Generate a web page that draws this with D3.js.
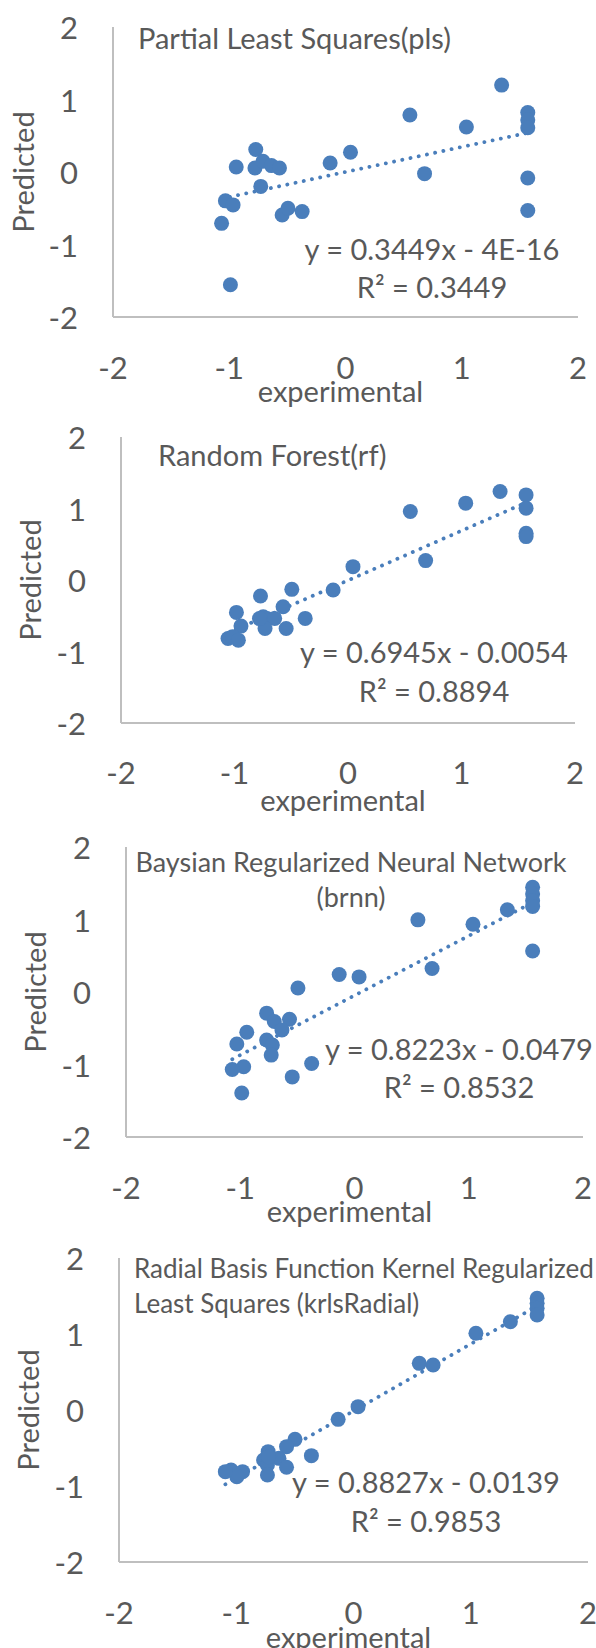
<!DOCTYPE html>
<html>
<head>
<meta charset="utf-8">
<script src="https://cdn.jsdelivr.net/npm/d3@7"></script>
<style>
  html, body { margin: 0; padding: 0; background: #fff; }
  svg text { font-family: Lato, "Noto Sans", sans-serif; fill: #595959; }
</style>
</head>
<body>
<svg id="chart" width="596" height="1648"></svg>
<script>
// values (experimental vs predicted)
var titles = [
  ["Partial Least Squares(pls)"],
  ["Random Forest(rf)"],
  ["Baysian Regularized Neural Network", "(brnn)"],
  ["Radial Basis Function Kernel Regularized", "Least Squares (krlsRadial)"]
]
var equations = ["y = 0.3449x - 4E-16", "y = 0.6945x - 0.0054", "y = 0.8223x - 0.0479", "y = 0.8827x - 0.0139"]
var rSquared = ["R² = 0.3449", "R² = 0.8894", "R² = 0.8532", "R² = 0.9853"]
var slopes = [0.3449, 0.6945, 0.8223, 0.8827]
var intercepts = [-4e-16, -0.0054, -0.0479, -0.0139]
var tickValues = [-2, -1, 0, 1, 2]

var plsX = [1.343, 0.554, 1.04, 1.568, 1.568, 1.568, 1.568, 1.568, 0.68, 0.043, -0.132, -0.772, -0.94,
  -0.779, -0.71, -0.637, -0.568, -0.729, -1.033, -0.967, -1.066, -0.99, -0.545, -0.495, -0.373]
var plsY = [1.199, 0.787, 0.62, 0.819, 0.717, 0.611, -0.083, -0.532, -0.023, 0.273, 0.125, 0.31, 0.069,
  0.056, 0.148, 0.088, 0.056, -0.199, -0.398, -0.454, -0.708, -1.556, -0.593, -0.5, -0.546]

var rfX = [1.34, 1.037, 0.549, 1.569, 1.569, 1.569, 1.569, 0.684, 0.044, -0.131, -0.495, -0.771, -0.572,
  -0.983, -0.377, -0.747, -0.714, -0.646, -0.943, -0.731, -0.545, -1.057, -1.017, -0.966, -0.78]
var rfY = [1.238, 1.075, 0.958, 1.19, 1.005, 0.654, 0.607, 0.271, 0.187, -0.14, -0.131, -0.224, -0.374,
  -0.453, -0.537, -0.514, -0.537, -0.537, -0.645, -0.678, -0.678, -0.818, -0.794, -0.841, -0.54]

var brnnX = [1.559, 1.559, 1.559, 1.559, 1.338, 0.555, 1.037, 1.559, 0.679, -0.134, 0.04, -0.495, -0.769,
  -0.702, -0.569, -0.635, -0.943, -1.03, -0.769, -0.719, -0.729, -0.375, -0.97, -1.07, -0.545, -0.987]
var brnnY = [1.444, 1.352, 1.259, 1.18, 1.134, 0.995, 0.935, 0.565, 0.324, 0.241, 0.208, 0.056, -0.292,
  -0.407, -0.375, -0.523, -0.556, -0.718, -0.662, -0.731, -0.87, -0.986, -1.032, -1.069, -1.171, -1.394]

var krlsX = [1.566, 1.566, 1.566, 1.566, 1.338, 1.044, 0.561, 0.679, 0.039, -0.131, -0.499, -0.571, -0.359,
  -0.728, -0.636, -0.767, -0.734, -0.571, -1.044, -0.946, -0.995, -0.734, -1.093, -0.724]
var krlsY = [1.469, 1.404, 1.338, 1.25, 1.162, 1.009, 0.614, 0.592, 0.044, -0.123, -0.386, -0.482, -0.601,
  -0.548, -0.636, -0.658, -0.724, -0.754, -0.789, -0.811, -0.877, -0.855, -0.811, -0.614]

var seriesX = [plsX, rfX, brnnX, krlsX]
var seriesY = [plsY, rfY, brnnY, krlsY]

// layout of each panel
var layout = [
  {left: 113, right: 578, top: 27, bottom: 317, xLab: 367, xTitle: 390, yTitle: 22,
   titleX: 138, titleY: [49], titleAnchor: "start", titleSize: 29, eqX: 432, eqY: [260, 298]},
  {left: 121, right: 575, top: 437, bottom: 723, xLab: 772, xTitle: 799, yTitle: 29,
   titleX: 158, titleY: [466], titleAnchor: "start", titleSize: 29, eqX: 434, eqY: [663, 702]},
  {left: 126, right: 583, top: 847, bottom: 1137, xLab: 1187, xTitle: 1210, yTitle: 34,
   titleX: 351, titleY: [872, 907], titleAnchor: "middle", titleSize: 27, eqX: 459, eqY: [1060, 1098]},
  {left: 119, right: 588, top: 1258, bottom: 1562, xLab: 1612, xTitle: 1636, yTitle: 27,
   titleX: 134, titleY: [1278, 1313], titleAnchor: "start", titleSize: 26, eqX: 426, eqY: [1493, 1532]}
]

var blue = "#4a7ebb"
var axisGrey = "#bfbfbf"
var svg = d3.select("#chart")

layout.forEach(function(L, i) {
  var x = d3.scaleLinear().domain([-2, 2]).range([L.left, L.right])
  var y = d3.scaleLinear().domain([-2, 2]).range([L.bottom, L.top])
  var g = svg.append("g")

  // axis lines (y axis at x=-2, x axis at y=-2)
  g.append("line").attr("x1", x(-2)).attr("x2", x(-2)).attr("y1", y(2)).attr("y2", y(-2))
    .attr("stroke", axisGrey).attr("stroke-width", 2)
  g.append("line").attr("x1", x(-2)).attr("x2", x(2)).attr("y1", y(-2)).attr("y2", y(-2))
    .attr("stroke", axisGrey).attr("stroke-width", 2)

  // tick labels
  g.selectAll(".ytick").data(tickValues).enter().append("text")
    .attr("x", L.left - 35).attr("y", function(d) { return y(d) })
    .attr("text-anchor", "end").attr("dominant-baseline", "central")
    .style("font-size", "31px").text(function(d) { return d })
  g.selectAll(".xtick").data(tickValues).enter().append("text")
    .attr("x", function(d) { return x(d) }).attr("y", L.xLab)
    .attr("text-anchor", "middle").attr("dominant-baseline", "central")
    .style("font-size", "31px").text(function(d) { return d })

  // axis titles
  g.append("text").attr("x", (L.left + L.right) / 2 - 5).attr("y", L.xTitle)
    .attr("text-anchor", "middle").attr("dominant-baseline", "central")
    .style("font-size", "29px").text("experimental")
  g.append("text")
    .attr("transform", "translate(" + L.yTitle + "," + ((L.top + L.bottom) / 2) + ") rotate(-90)")
    .attr("text-anchor", "middle").attr("dominant-baseline", "central")
    .style("font-size", "29px").text("Predicted")

  // chart title
  titles[i].forEach(function(t, k) {
    g.append("text").attr("x", L.titleX).attr("y", L.titleY[k])
      .attr("text-anchor", L.titleAnchor)
      .style("font-size", L.titleSize + "px").text(t)
  })

  // trendline, round dots
  var xs = seriesX[i], ys = seriesY[i]
  var ext = d3.extent(xs)
  var line = d3.line().x(function(d) { return x(d) }).y(function(d) { return y(slopes[i] * d + intercepts[i]) })
  g.append("path").datum(ext).attr("d", line)
    .attr("fill", "none").attr("stroke", blue).attr("stroke-width", 3.8)
    .attr("stroke-linecap", "round").attr("stroke-dasharray", "0.1 8.3")

  // points
  g.selectAll("circle").data(d3.range(xs.length)).enter().append("circle")
    .attr("cx", function(k) { return x(xs[k]) })
    .attr("cy", function(k) { return y(ys[k]) })
    .attr("r", 7.5).attr("fill", blue)

  // equation + R²
  g.append("text").attr("x", L.eqX).attr("y", L.eqY[0]).attr("text-anchor", "middle")
    .style("font-size", "29px").text(equations[i])
  g.append("text").attr("x", L.eqX).attr("y", L.eqY[1]).attr("text-anchor", "middle")
    .style("font-size", "29px").text(rSquared[i])
})
</script>
</body>
</html>
